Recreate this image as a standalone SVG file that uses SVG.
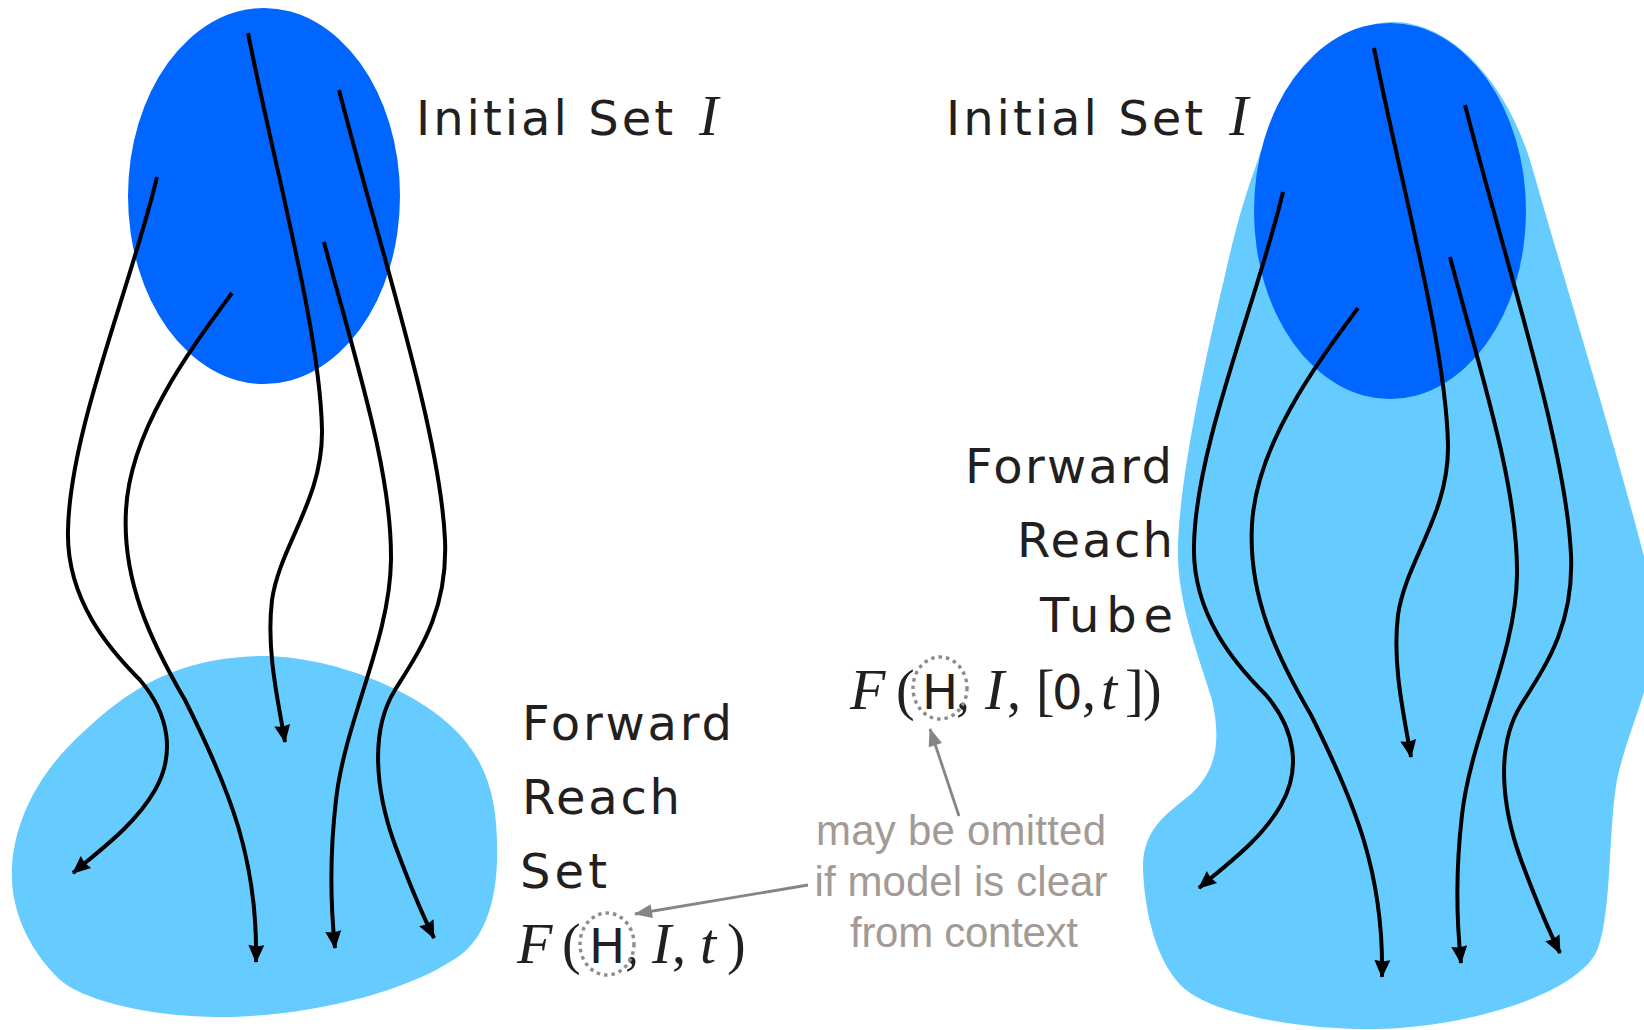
<svg xmlns="http://www.w3.org/2000/svg" width="1644" height="1030" viewBox="0 0 1644 1030">
<style>
.dark{fill:#0066FF}
.light{fill:#66CCFF}
.traj{fill:none;stroke:#000;stroke-width:4;marker-end:url(#ah)}
.lbl{font-family:"DejaVu Sans","Liberation Sans",sans-serif;font-size:48px;fill:#231F20}
.mi{font-family:"Liberation Serif","DejaVu Serif",serif;font-style:italic;font-size:58px;fill:#231F20}
.mr{font-family:"Liberation Serif","DejaVu Serif",serif;font-size:56px;fill:#231F20}
.ms{font-family:"DejaVu Sans","Liberation Sans",sans-serif;font-size:48px;fill:#231F20}
.note{font-family:"Liberation Sans",Arial,sans-serif;font-size:42px;fill:#A39A95;text-anchor:middle}
.garrow{fill:none;stroke:#858585;stroke-width:2.8;marker-end:url(#gh)}
.dot{fill:none;stroke:#8C8C8C;stroke-width:3.4;stroke-dasharray:3.5 4}
</style>
<defs>
<marker id="ah" markerUnits="userSpaceOnUse" markerWidth="20" markerHeight="18" refX="17" refY="8" orient="auto" viewBox="0 0 20 18" overflow="visible">
<path d="M0,0 L18,8 L0,16 L1.5,8 Z" fill="#000"/>
</marker>
<marker id="gh" markerUnits="userSpaceOnUse" markerWidth="20" markerHeight="16" refX="17" refY="7" orient="auto" viewBox="0 0 20 16" overflow="visible">
<path d="M0,0 L18,7 L0,14 Z" fill="#858585"/>
</marker>
</defs>

<g id="reach-set">
<path class="light" d="M263,656 C330,656 420,690 460,735 C492,770 498,810 497,860 C496,910 480,945 453,960 C400,995 300,1017 221,1017 C150,1017 80,1000 58,978 C25,945 10,905 12,868 C14,820 40,775 70,745 C120,695 170,657 263,656 Z"/>
</g>
<g id="reach-tube">
<path class="light" d="M1258,160 C1285,70 1340,22 1393,22 C1450,22 1505,80 1530,160 C1570,300 1620,460 1650,580 L1652,660 C1645,700 1625,740 1617,780 C1608,830 1612,910 1598,948 C1585,985 1500,1020 1400,1028 C1330,1033 1230,1020 1190,993 C1160,972 1145,920 1143,870 C1142,830 1165,815 1190,795 C1215,772 1222,745 1212,700 C1200,660 1180,610 1178,560 C1176,500 1200,380 1225,275 C1235,230 1245,195 1258,160 Z"/>
</g>
<g id="initial-set-left">
<ellipse class="dark" cx="264" cy="196" rx="136" ry="188"/>
</g>
<g id="initial-set-right">
<ellipse class="dark" cx="1390" cy="211" rx="136" ry="188"/>
</g>

<g id="connectors">
<g id="trajectories-left">
<path class="traj" d="M157,177 C130,290 70,430 68,530 C66,600 110,650 140,680 C170,715 175,755 155,790 C135,825 100,850 73,873"/>
<path class="traj" d="M232,293 C190,350 130,430 126,510 C122,580 150,640 185,700 C230,790 258,860 256,962"/>
<path class="traj" d="M248,33 C275,170 320,330 322,430 C323,500 280,545 272,600 C266,650 278,700 285,742"/>
<path class="traj" d="M324,242 C355,360 392,470 391,560 C390,640 345,720 336,800 C329,860 331,910 335,948"/>
<path class="traj" d="M339,90 C380,250 440,430 445,540 C448,610 420,650 395,690 C370,730 375,790 395,845 C408,880 420,910 434,938"/>
</g>
<g id="trajectories-right" transform="translate(1126,15)">
<path class="traj" d="M157,177 C130,290 70,430 68,530 C66,600 110,650 140,680 C170,715 175,755 155,790 C135,825 100,850 73,873"/>
<path class="traj" d="M232,293 C190,350 130,430 126,510 C122,580 150,640 185,700 C230,790 258,860 256,962"/>
<path class="traj" d="M248,33 C275,170 320,330 322,430 C323,500 280,545 272,600 C266,650 278,700 285,742"/>
<path class="traj" d="M324,242 C355,360 392,470 391,560 C390,640 345,720 336,800 C329,860 331,910 335,948"/>
<path class="traj" d="M339,90 C380,250 440,430 445,540 C448,610 420,650 395,690 C370,730 375,790 395,845 C408,880 420,910 434,938"/>
</g>
<path class="garrow" d="M959,816 L930,729"/>
<path class="garrow" d="M808,885 L635,914"/>
</g>

<g id="label-initial-left">
<text class="lbl" x="416" y="135" textLength="257">Initial Set</text>
<text class="mi" x="699" y="135">I</text>
</g>
<g id="label-initial-right">
<text class="lbl" x="946" y="135" textLength="257">Initial Set</text>
<text class="mi" x="1229" y="135">I</text>
</g>

<g id="label-set">
<text class="lbl" x="522" y="740" textLength="210">Forward</text>
<text class="lbl" x="522" y="814" textLength="158">Reach</text>
<text class="lbl" x="520" y="888" textLength="87">Set</text>
<text y="963"><tspan class="mi" x="517">F</tspan><tspan class="mr" x="562">(</tspan><tspan class="ms" x="589">H</tspan><tspan class="mr" x="625">,</tspan><tspan class="mi" x="652">I</tspan><tspan class="mr" x="672">,</tspan><tspan class="mi" x="700">t</tspan><tspan class="mr" x="727">)</tspan></text>
<ellipse class="dot" cx="607" cy="944" rx="27" ry="31"/>
</g>

<g id="label-tube">
<text class="lbl" x="965" y="483" textLength="207">Forward</text>
<text class="lbl" x="1017" y="557" textLength="156">Reach</text>
<text class="lbl" x="1040" y="632" textLength="133">Tube</text>
<text y="709"><tspan class="mi" x="850">F</tspan><tspan class="mr" x="896">(</tspan><tspan class="ms" x="922">H</tspan><tspan class="mr" x="956">,</tspan><tspan class="mi" x="985">I</tspan><tspan class="mr" x="1007">,</tspan><tspan class="mr" x="1036">[</tspan><tspan class="ms" x="1052">0</tspan><tspan class="mr" x="1082">,</tspan><tspan class="mi" x="1101">t</tspan><tspan class="mr" x="1125">]</tspan><tspan class="mr" x="1143">)</tspan></text>
<ellipse class="dot" cx="940" cy="688" rx="27" ry="31"/>
</g>

<g id="note">
<text class="note" x="961" y="845" textLength="290">may be omitted</text>
<text class="note" x="961" y="896" textLength="293">if model is clear</text>
<text class="note" x="964" y="947" textLength="228">from context</text>
</g>
</svg>
